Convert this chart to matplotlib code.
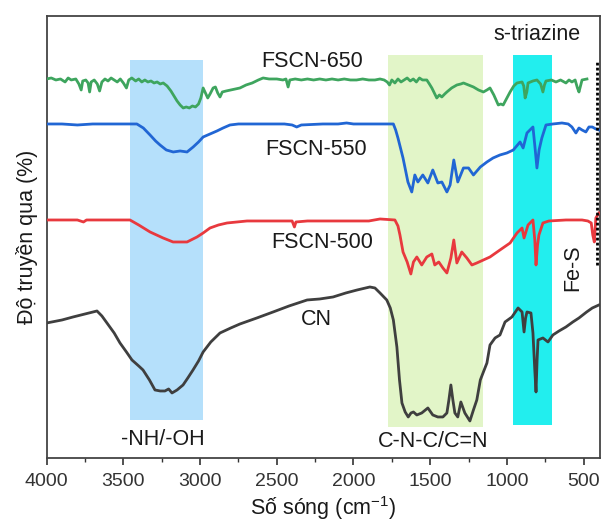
import matplotlib
matplotlib.use("Agg")
import matplotlib.pyplot as plt

# wavenumber (cm-1) / transmittance (a.u., offset per curve)
wn_650 = [4000, 3970, 3940, 3910, 3880, 3860, 3840, 3810, 3790, 3775, 3765, 3745, 3730, 3720, 3710, 3690,
          3670, 3655, 3640, 3620, 3600, 3580, 3560, 3540, 3520, 3500, 3480, 3465, 3445, 3420, 3400, 3380,
          3360, 3340, 3320, 3300, 3280, 3260, 3240, 3215, 3190, 3170, 3150, 3130, 3110, 3090, 3070, 3050,
          3030, 3010, 2995, 2980, 2965, 2950, 2935, 2915, 2900, 2885, 2870, 2855, 2830, 2800, 2770, 2740,
          2700, 2660, 2620, 2589, 2550, 2500, 2460, 2440, 2426, 2415, 2380, 2340, 2300, 2260, 2220, 2180,
          2140, 2100, 2060, 2020, 1980, 1940, 1900, 1860, 1827, 1800, 1780, 1765, 1750, 1730, 1710, 1690,
          1670, 1650, 1630, 1610, 1590, 1570, 1550, 1522, 1505, 1489, 1470, 1457, 1440, 1424, 1405, 1391,
          1360, 1326, 1300, 1283, 1250, 1218, 1185, 1153, 1130, 1110, 1085, 1056, 1040, 1024, 1000, 979,
          955, 934, 901, 890, 881, 870, 862, 830, 804, 780, 765, 755, 745, 710, 680, 650,
          615, 595, 576, 555, 540, 530, 520, 510, 478]
t_650 = [379, 380, 378, 379, 376, 380, 378, 379, 374, 368, 377, 378, 375, 366, 376, 378,
         374, 367, 376, 379, 377, 380, 378, 376, 379, 375, 370, 378, 380, 377, 379, 376,
         378, 376, 377, 375, 376, 374, 375, 372, 367, 362, 357, 353, 350, 351, 350, 352,
         351, 354, 360, 370, 365, 360, 364, 370, 371, 365, 361, 366, 367, 368, 369, 370,
         373, 375, 378, 380, 379, 379, 378, 379, 371, 378, 379, 378, 379, 378, 379, 378,
         379, 378, 379, 378, 378, 379, 378, 378, 379, 378, 376, 373, 378, 375, 379, 376,
         378, 380, 377, 379, 376, 380, 378, 378, 374, 370, 364, 360, 363, 361, 364, 366,
         370, 373, 374, 375, 373, 371, 368, 366, 368, 370, 363, 353, 354, 353, 360, 366,
         372, 375, 376, 372, 360, 366, 375, 377, 378, 374, 366, 373, 377, 378, 376, 378,
         375, 378, 376, 378, 370, 366, 372, 378, 379]

wn_550 = [4000, 3900, 3800, 3700, 3600, 3500, 3412, 3370, 3326, 3290, 3261, 3220, 3175, 3130, 3085, 3045,
          3010, 2980, 2935, 2890, 2850, 2805, 2750, 2600, 2450, 2400, 2370, 2340, 2200, 2100, 2045, 2000,
          1900, 1800, 1740, 1725, 1710, 1677, 1645, 1620, 1600, 1580, 1548, 1515, 1483, 1450, 1424, 1391,
          1370, 1346, 1320, 1283, 1250, 1218, 1173, 1130, 1090, 1045, 1000, 958, 914, 894, 869, 830,
          815, 804, 790, 772, 745, 700, 641, 600, 576, 550, 530, 510, 485, 465, 443, 420, 400]
t_550 = [334, 334, 333, 334, 334, 334, 334, 330, 323, 317, 313, 308, 306, 307, 306, 311,
         316, 321, 324, 327, 330, 333, 334, 334, 334, 333, 331, 333, 334, 334, 335, 334,
         334, 334, 334, 328, 320, 300, 276, 266, 283, 276, 283, 275, 288, 275, 276, 266,
         273, 298, 276, 290, 290, 283, 291, 296, 300, 303, 305, 308, 316, 310, 325, 331,
         308, 290, 308, 320, 333, 334, 335, 334, 331, 325, 330, 328, 326, 331, 331, 329, 328]

wn_500 = [4000, 3900, 3800, 3760, 3740, 3600, 3457, 3400, 3326, 3241, 3176, 3130, 3085, 3020, 2980, 2935,
          2880, 2824, 2694, 2500, 2400, 2385, 2375, 2300, 2100, 1900, 1827, 1730, 1710, 1697, 1677, 1650,
          1626, 1609, 1587, 1555, 1522, 1489, 1470, 1444, 1417, 1391, 1365, 1346, 1326, 1294, 1261, 1228,
          1196, 1153, 1110, 1045, 979, 934, 901, 888, 862, 830, 818, 810, 800, 791, 765, 726,
          615, 510, 472, 450, 440, 430, 420, 400]
t_500 = [238, 238, 238, 236, 238, 238, 238, 233, 226, 220, 216, 216, 216, 221, 225, 230,
         233, 235, 237, 237, 237, 231, 236, 237, 237, 237, 239, 238, 232, 223, 206, 196,
         184, 196, 201, 193, 201, 204, 193, 196, 190, 185, 200, 218, 195, 206, 200, 193,
         195, 198, 201, 208, 215, 225, 230, 220, 233, 238, 218, 193, 213, 223, 235, 237,
         238, 238, 237, 235, 223, 216, 240, 245]

wn_cn = [4000, 3900, 3828, 3750, 3672, 3640, 3607, 3560, 3522, 3480, 3444, 3400, 3372, 3330, 3294, 3260,
         3229, 3205, 3183, 3150, 3111, 3080, 3046, 3010, 2980, 2930, 2870, 2800, 2740, 2630, 2524, 2420,
         2302, 2220, 2133, 2050, 1976, 1893, 1860, 1827, 1783, 1760, 1740, 1717, 1700, 1684, 1663, 1643,
         1625, 1609, 1587, 1555, 1515, 1483, 1450, 1417, 1391, 1378, 1365, 1352, 1339, 1320, 1300, 1274,
         1241, 1218, 1196, 1173, 1153, 1130, 1110, 1077, 1045, 1012, 967, 927, 901, 888, 878, 869,
         843, 830, 818, 810, 803, 797, 765, 732, 700, 660, 615, 570, 530, 480, 443, 400]
t_cn = [135, 138, 141, 144, 147, 142, 135, 125, 115, 106, 98, 92, 88, 78, 68, 67,
        67, 69, 65, 68, 73, 80, 88, 97, 106, 116, 125, 130, 134, 140, 146, 152,
        158, 159, 161, 165, 168, 171, 170, 165, 158, 150, 138, 111, 78, 55, 46, 41,
        45, 46, 43, 45, 50, 43, 41, 41, 45, 58, 73, 58, 45, 41, 56, 45,
        37, 48, 58, 78, 86, 95, 113, 120, 123, 136, 141, 150, 146, 126, 140, 146,
        145, 125, 88, 66, 98, 118, 120, 116, 123, 127, 131, 136, 140, 146, 150, 153]

# shaded bands
band_names = ["NH/OH", "CNC", "triazine"]
band_hi = [3457, 1775, 963]
band_lo = [2981, 1156, 708]
band_bottom = [38, 31, 33]
band_top = [398, 403, 403]
band_colors = ["#b5e0fb", "#e2f5c8", "#22eeee"]

FONT = ["Liberation Sans", "DejaVu Sans"]


def main() -> None:
    plt.rcParams["font.family"] = FONT
    plt.rcParams["mathtext.fontset"] = "custom"
    plt.rcParams["mathtext.rm"] = "Liberation Sans"
    plt.rcParams["mathtext.it"] = "Liberation Sans:italic"

    fig = plt.figure(figsize=(6.03, 5.24), dpi=100)
    ax = fig.add_axes([0.0774, 0.126, 0.9176, 0.8435])

    for hi, lo, b, t, c in zip(band_hi, band_lo, band_bottom, band_top, band_colors):
        ax.fill_between([hi, lo], [b, b], [t, t], color=c, linewidth=0, zorder=1)

    lw = 2.0
    ax.plot(wn_650, t_650, color="#3ea55e", lw=lw, zorder=3)
    ax.plot(wn_550, t_550, color="#2166d4", lw=lw, zorder=3)
    ax.plot(wn_500, t_500, color="#e8393e", lw=lw, zorder=3)
    ax.plot(wn_cn, t_cn, color="#3f3f3f", lw=lw, zorder=3)

    # Fe-S marker
    ax.plot([413, 413], [193, 396], color="black", lw=2.0, ls=(0, (1, 0.8)), zorder=4)

    fs = 15.5
    tc = "#1a1a1a"
    ax.text(2271, 396, "FSCN-650", fontsize=fs, ha="center", va="center", color=tc)
    ax.text(2244, 308, "FSCN-550", fontsize=fs, ha="center", va="center", color=tc)
    ax.text(2205, 215, "FSCN-500", fontsize=fs, ha="center", va="center", color=tc)
    ax.text(2244, 138, "CN", fontsize=fs, ha="center", va="center", color=tc)
    ax.text(804, 423, "s-triazine", fontsize=fs, ha="center", va="center", color=tc)
    ax.text(3242, 18, "-NH/-OH", fontsize=fs, ha="center", va="center", color=tc)
    ax.text(1482, 16, "C-N-C/C=N", fontsize=fs, ha="center", va="center", color=tc)
    ax.text(569, 190, "Fe-S", fontsize=fs, ha="center", va="center", rotation=90, color=tc)

    ax.set_xlim(4000, 393)
    ax.set_ylim(0, 442)
    ax.set_xticks([4000, 3500, 3000, 2500, 2000, 1500, 1000, 500])
    ax.set_xticks([3750, 3250, 2750, 2250, 1750, 1250, 750], minor=True)
    ax.set_yticks([])
    ax.tick_params(axis="x", which="major", direction="out", length=5, width=1.2,
                   labelsize=14, pad=6, colors="#333333")
    ax.tick_params(axis="x", which="minor", direction="out", length=3, width=1.0, colors="#333333")
    for sp in ax.spines.values():
        sp.set_color("#444444")
        sp.set_linewidth(1.3)

    ax.set_xlabel("Số sóng (cm$^{-1}$)", fontsize=15.5, color=tc, labelpad=3)
    ax.set_ylabel("Độ truyền qua (%)", fontsize=15.5, color=tc, labelpad=6)

    fig.savefig("out.png", dpi=100)


if __name__ == "__main__":
    main()
